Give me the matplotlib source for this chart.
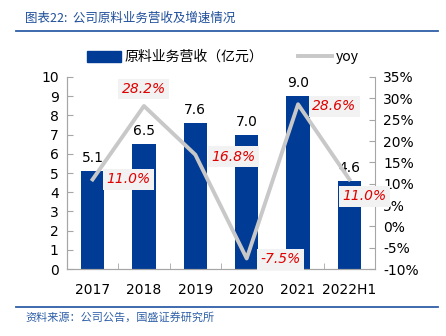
import matplotlib.pyplot as plt
from matplotlib.lines import Line2D
from matplotlib.patches import Patch

plt.rcParams['font.family'] = ['DejaVu Sans', 'Noto Sans CJK SC']

years = ['2017', '2018', '2019', '2020', '2021', '2022H1']
revenue = [5.1, 6.5, 7.6, 7.0, 9.0, 4.6]
yoy = [11.0, 28.2, 16.8, -7.5, 28.6, 11.0]
yoy_labels = ['11.0%', '28.2%', '16.8%', '-7.5%', '28.6%', '11.0%']

blue = '#003c96'
grey = '#c8c8c8'
axcol = '#a6a6a6'

fig = plt.figure(figsize=(4.46, 3.36), dpi=100)
ax = fig.add_axes([0.150, 0.199, 0.691, 0.572])
ax2 = ax.twinx()

x = list(range(len(years)))
ax.bar(x, revenue, width=0.45, color=blue, zorder=2)
for xi, v in zip(x, revenue):
    ax.annotate('%.1f' % v, (xi, v), xytext=(0, 6), textcoords='offset pixels',
                ha='center', va='bottom', fontsize=10, color='black')

ax.set_xlim(-0.5, len(years) - 0.5)
ax.set_ylim(0, 10)
ax.set_yticks(range(0, 11))
ax.set_xticks(x)
ax.set_xticklabels(years)
ax.set_xticks([i + 0.5 for i in x[:-1]], minor=True)
ax.tick_params(axis='x', which='major', length=0, pad=10, labelsize=10)
ax.tick_params(axis='x', which='minor', length=4, direction='in', color=axcol)
ax.tick_params(axis='y', length=4, direction='in', color=axcol, labelsize=10, pad=6)

ax2.plot(x, yoy, color=grey, lw=2.8, zorder=3)
ax2.set_ylim(-10, 35)
ax2.set_yticks(range(-10, 36, 5))
ax2.set_yticklabels(['%d%%' % t for t in range(-10, 36, 5)])
ax2.tick_params(axis='y', length=4, direction='in', color=axcol, labelsize=10, pad=6)

for a in (ax, ax2):
    a.spines['top'].set_visible(False)
    for s in ('left', 'right', 'bottom'):
        a.spines[s].set_color(axcol)
ax.spines['right'].set_visible(False)

# yoy label offsets (pixels)
offsets = [(14, 0, 'left', 'center'), (0, 10, 'center', 'bottom'),
           (16, -2, 'left', 'center'), (14, -1, 'left', 'center'),
           (14, -2, 'left', 'center'), (15, -17, 'center', 'center')]
for xi, v, lab, (dx, dy, ha, va) in zip(x, yoy, yoy_labels, offsets):
    ax2.annotate(lab, (xi, v), xytext=(dx, dy), textcoords='offset pixels',
                 ha=ha, va=va, fontsize=10, color='#e00000', style='italic',
                 bbox=dict(boxstyle='square,pad=0.25', fc='#f2f2f2', ec='none'),
                 zorder=5)

handles = [Patch(color=blue), Line2D([0], [0], color=grey, lw=2.8)]
fig.legend(handles, ['原料业务营收（亿元）', 'yoy'], loc='center', ncol=2,
           bbox_to_anchor=(0.5, 0.83), frameon=False,
           handlelength=2.4, handleheight=0.9, columnspacing=2.5, handletextpad=0.3,
           prop={'family': ['Noto Sans CJK SC', 'DejaVu Sans'], 'size': 10})

fig.text(0.056, 0.947, '图表22:  公司原料业务营收及增速情况', fontsize=9, color='#1f4e9a',
         style='italic', va='center', family=['Noto Sans CJK SC', 'DejaVu Sans'])
fig.add_artist(Line2D([0.036, 0.982], [0.908, 0.908], color='#2e5fa8', lw=1.3))
fig.add_artist(Line2D([0.036, 0.982], [0.086, 0.086], color='#2e5fa8', lw=1.3))
fig.text(0.058, 0.056, '资料来源：公司公告，国盛证券研究所', fontsize=8, color='#2e5fa8',
         style='italic', va='center', family=['Noto Sans CJK SC', 'DejaVu Sans'])

fig.savefig('out.png', dpi=100)
